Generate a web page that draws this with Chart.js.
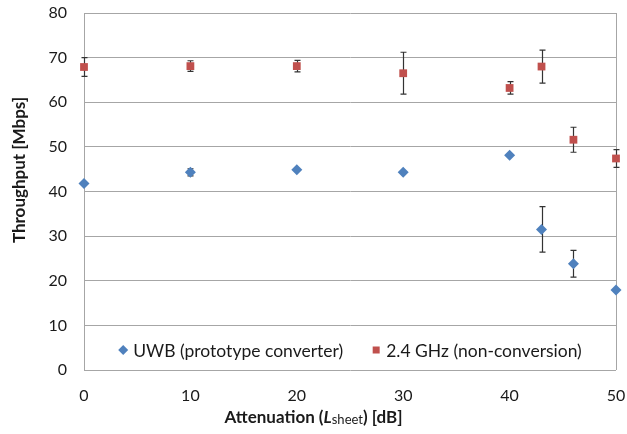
<!DOCTYPE html>
<html lang="en">
<head>
  <meta charset="UTF-8" />
  <title>Throughput vs Attenuation</title>
  <script src="https://cdn.jsdelivr.net/npm/chart.js@4"></script>
  <style>
    html, body { margin: 0; padding: 0; background: #fff; }
  </style>
</head>
<body>
  <canvas id="throughputChart" width="627" height="434"></canvas>

  <script>
    // Values
    const attenuation = [0, 10, 20, 30, 40, 43, 46, 50];
    const uwbThroughput = [41.8, 44.3, 44.9, 44.3, 48.1, 31.5, 23.8, 17.9];
    const uwbError = [0, 0.8, 0, 0, 0, 5.1, 3.0, 0];
    const ghzThroughput = [67.9, 68.1, 68.1, 66.5, 63.2, 68.0, 51.6, 47.4];
    const ghzError = [2.1, 1.2, 1.3, 4.7, 1.4, 3.7, 2.8, 2.0];
    const seriesLabels = ['UWB (prototype converter)', '2.4 GHz (non-conversion)'];
    const yTitle = 'Throughput [Mbps]';

    const FONT = 'Lato';
    const TEXT = '#1a1a1a';
    const GRID = '#a6a6a6';

    const toPoints = (ys) => attenuation.map((x, i) => ({ x, y: ys[i] }));

    // vertical error bars with caps, drawn under the markers
    const errorBars = {
      id: 'errorBars',
      beforeDatasetsDraw(chart) {
        const { ctx, scales: { x, y } } = chart;
        ctx.save();
        ctx.strokeStyle = '#333';
        ctx.lineWidth = 1.2;
        chart.data.datasets.forEach(ds => {
          ds.data.forEach((p, i) => {
            const e = ds.errors[i];
            if (!e) return;
            const px = Math.round(x.getPixelForValue(p.x)) + 0.5;
            const top = y.getPixelForValue(p.y + e);
            const bot = y.getPixelForValue(p.y - e);
            ctx.beginPath();
            ctx.moveTo(px, top); ctx.lineTo(px, bot);
            ctx.moveTo(px - 3, top); ctx.lineTo(px + 3, top);
            ctx.moveTo(px - 3, bot); ctx.lineTo(px + 3, bot);
            ctx.stroke();
          });
        });
        ctx.restore();
      }
    };

    // legend inside the plot area, near the bottom
    const insideLegend = {
      id: 'insideLegend',
      afterDraw(chart) {
        const { ctx, chartArea } = chart;
        ctx.save();
        ctx.font = `17.5px ${FONT}`;
        const items = chart.data.datasets.map(ds => ({
          label: ds.label, color: ds.backgroundColor, style: ds.pointStyle,
          w: ctx.measureText(ds.label).width
        }));
        const markW = 10, markGap = 5, itemGap = 28;
        const total = items.reduce((s, it) => s + markW + markGap + it.w, 0) + itemGap * (items.length - 1);
        let x = (chartArea.left + chartArea.right) / 2 - total / 2;
        const y = chartArea.bottom - 20;
        ctx.textBaseline = 'middle';
        items.forEach(it => {
          const cx = x + markW / 2;
          ctx.fillStyle = it.color;
          ctx.beginPath();
          if (it.style === 'rectRot') {
            ctx.moveTo(cx, y - 5); ctx.lineTo(cx + 5, y); ctx.lineTo(cx, y + 5); ctx.lineTo(cx - 5, y);
            ctx.closePath();
          } else {
            ctx.rect(cx - 3.5, y - 3.5, 7, 7);
          }
          ctx.fill();
          ctx.fillStyle = TEXT;
          ctx.fillText(it.label, x + markW + markGap, y + 1);
          x += markW + markGap + it.w + itemGap;
        });
        ctx.restore();
      }
    };

    // axis titles (x title has italic L with subscript "sheet")
    const axisTitles = {
      id: 'axisTitles',
      afterDraw(chart) {
        const { ctx } = chart;
        ctx.save();
        ctx.fillStyle = TEXT;
        ctx.textBaseline = 'alphabetic';

        const parts = [
          { t: 'Attenuation (', f: `bold 17px ${FONT}`, dy: 0 },
          { t: 'L', f: `italic bold 17px ${FONT}`, dy: 0 },
          { t: 'sheet', f: `13px ${FONT}`, dy: 1 },
          { t: ') [dB]', f: `bold 17px ${FONT}`, dy: 0 }
        ];
        let width = 0;
        parts.forEach(p => { ctx.font = p.f; p.w = ctx.measureText(p.t).width; width += p.w; });
        let x = chart.width / 2 - width / 2;
        const base = 423;
        parts.forEach(p => { ctx.font = p.f; ctx.fillText(p.t, x, base + p.dy); x += p.w; });

        ctx.translate(25, 170);
        ctx.rotate(-Math.PI / 2);
        ctx.font = `bold 17px ${FONT}`;
        ctx.textAlign = 'center';
        ctx.fillText(yTitle, 0, 0);
        ctx.restore();
      }
    };

    const ctx = document.getElementById('throughputChart').getContext('2d');
    const throughputChart = new Chart(ctx, {
      type: 'scatter',
      data: {
        datasets: [
          {
            label: seriesLabels[0],
            data: toPoints(uwbThroughput),
            errors: uwbError,
            pointStyle: 'rectRot',
            pointRadius: 5.5,
            backgroundColor: '#4f81bd',
            borderColor: '#4f81bd',
            borderWidth: 0,
            clip: false
          },
          {
            label: seriesLabels[1],
            data: toPoints(ghzThroughput),
            errors: ghzError,
            pointStyle: 'rect',
            pointRadius: 5.5,
            backgroundColor: '#c0504d',
            borderColor: '#c0504d',
            borderWidth: 0,
            clip: false
          }
        ]
      },
      options: {
        responsive: false,
        animation: false,
        layout: { padding: { top: 13, right: 11, left: 0, bottom: 0 } },
        plugins: {
          legend: { display: false },
          tooltip: { enabled: false }
        },
        scales: {
          x: {
            type: 'linear',
            min: 0, max: 50,
            afterFit: s => { s.height = 64; s.paddingLeft = 0; s.paddingRight = 0; },
            ticks: { stepSize: 10, padding: 16, color: TEXT, font: { family: FONT, size: 16 } },
            grid: {
              drawTicks: false,
              color: c => c.tick.value === 50 ? GRID : 'rgba(0,0,0,0)'
            },
            border: { display: false }
          },
          y: {
            min: 0, max: 80,
            afterFit: s => { s.width = 84; s.paddingTop = 0; s.paddingBottom = 0; },
            ticks: { stepSize: 10, padding: 17, color: TEXT, font: { family: FONT, size: 16 } },
            grid: { drawTicks: false, color: GRID },
            border: { color: GRID }
          }
        }
      },
      plugins: [errorBars, insideLegend, axisTitles]
    });
  </script>
</body>
</html>
